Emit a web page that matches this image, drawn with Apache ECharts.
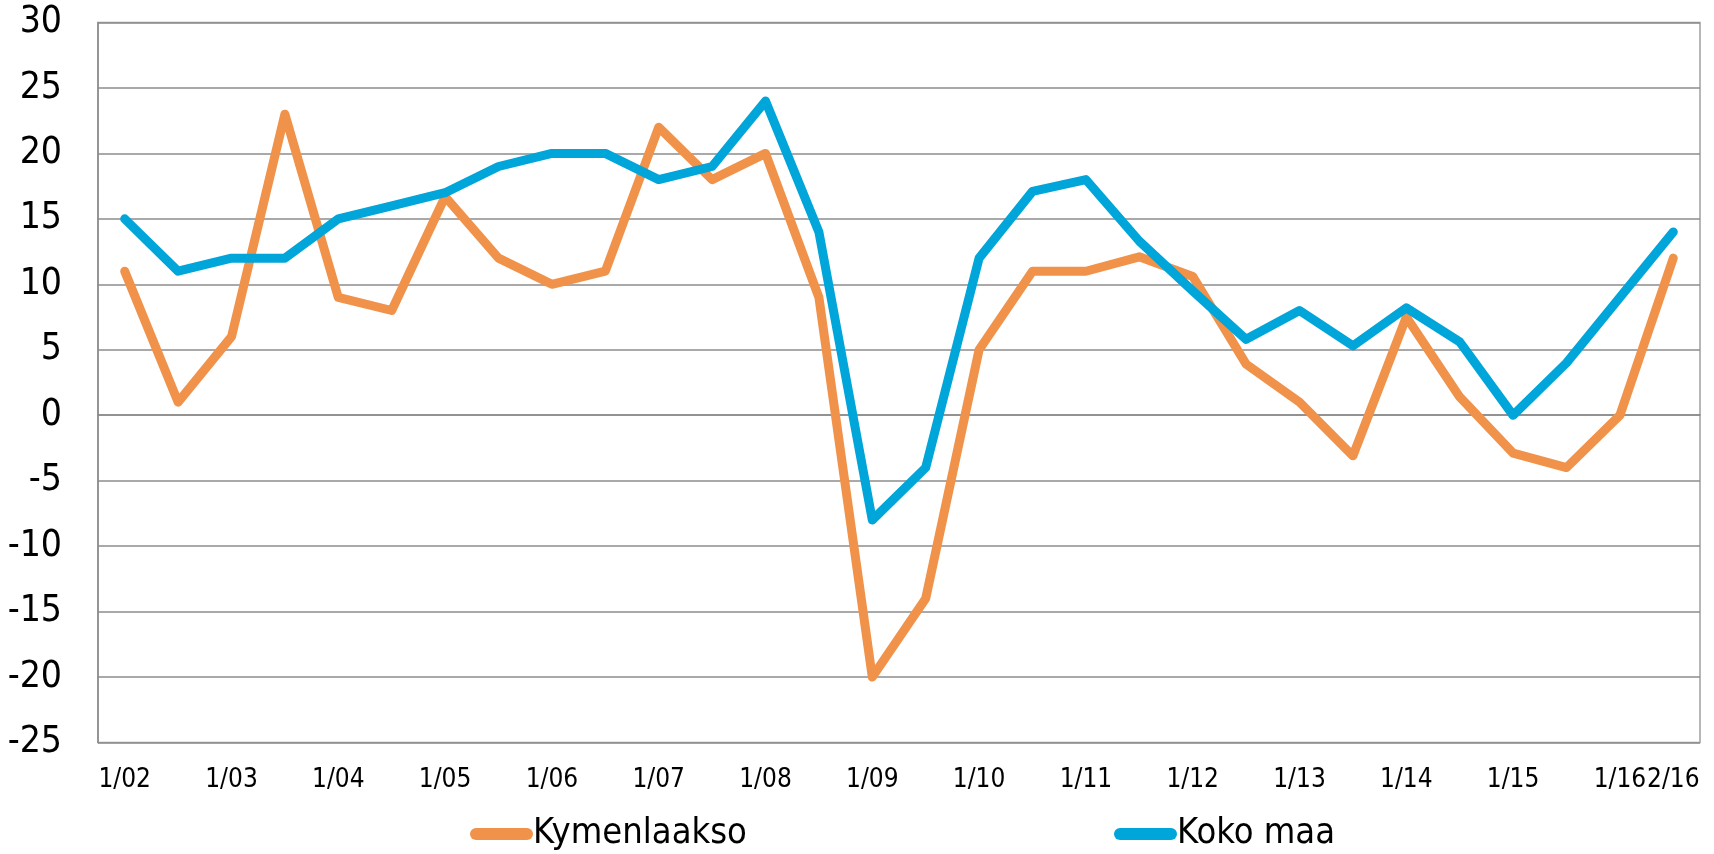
<!DOCTYPE html>
<html>
<head>
<meta charset="utf-8">
<script src="https://cdn.jsdelivr.net/npm/echarts@6/dist/echarts.min.js"></script>
<style>
html,body{margin:0;padding:0;background:#fff;}
#chart{width:1714px;height:854px;}
</style>
</head>
<body>
<div id="chart"></div>
<script>
const categories = ['1/02','2/02','1/03','2/03','1/04','2/04','1/05','2/05','1/06','2/06',
  '1/07','2/07','1/08','2/08','1/09','2/09','1/10','2/10','1/11','2/11',
  '1/12','2/12','1/13','2/13','1/14','2/14','1/15','2/15','1/16','2/16'];
const kymenlaakso = [11, 1, 6, 23, 9, 8, 16.7, 12, 10, 11,
  22, 18, 20, 9, -20, -14, 5, 11, 11, 12.1,
  10.6, 3.9, 1, -3.1, 7.5, 1.4, -2.9, -4, 0, 12];
const kokoMaa = [15, 11, 12, 12, 15, 16, 17, 19, 20, 20,
  18, 19, 24, 14, -8, -4, 12, 17.1, 18, 13.3,
  9.5, 5.8, 8, 5.3, 8.2, 5.6, 0, 4, 9, 14];
const yTicks = {min: -25, max: 30, interval: 5};
const seriesNames = ['Kymenlaakso', 'Koko maa'];
const colors = ['#F0924A', '#00A5DA'];

const FONT = '"DejaVu Sans Condensed", "DejaVu Sans", sans-serif';
const chart = echarts.init(document.getElementById('chart'), null, {renderer: 'canvas'});
const lastIdx = categories.length - 1;
const legendIcon = 'path://M6,0 L57,0 A6,6 0 0 1 57,12 L6,12 A6,6 0 0 1 6,0 Z';
chart.setOption({
  animation: false,
  backgroundColor: '#ffffff',
  grid: {left: 98, right: 14, top: 22.5, bottom: 111.5, show: true, borderColor: '#a0a0a0', borderWidth: 1.5, backgroundColor: 'transparent'},
  legend: [
    {data: [seriesNames[0]], left: 465, top: 811, itemWidth: 63, itemHeight: 12, itemGap: 0, icon: legendIcon,
     textStyle: {fontFamily: FONT, fontSize: 36, color: '#000', padding: [0,0,0,-5]}},
    {data: [seriesNames[1]], left: 1109, top: 811, itemWidth: 63, itemHeight: 12, itemGap: 0, icon: legendIcon,
     textStyle: {fontFamily: FONT, fontSize: 36, color: '#000', padding: [0,0,0,-5]}}
  ],
  xAxis: {
    type: 'category',
    data: categories,
    boundaryGap: true,
    axisLine: {lineStyle: {color: '#8a8a8a', width: 1.5}},
    axisTick: {show: false},
    axisLabel: {
      interval: (i) => i % 2 === 0 || i === lastIdx,
      hideOverlap: false, showMaxLabel: true,
      fontFamily: FONT, fontSize: 26, color: '#000', margin: 25
    },
    splitLine: {show: false}
  },
  yAxis: {
    type: 'value',
    min: yTicks.min, max: yTicks.max, interval: yTicks.interval,
    axisLine: {show: true, lineStyle: {color: '#8a8a8a', width: 1.5}},
    axisTick: {show: false},
    axisLabel: {fontFamily: FONT, fontSize: 37, color: '#000', margin: 36, padding: [6, 0, 0, 0]},
    splitLine: {lineStyle: {color: '#8c8c8c', width: 1.5}}
  },
  series: [
    {name: seriesNames[0], type: 'line', data: kymenlaakso, symbol: 'none',
     lineStyle: {color: colors[0], width: 9, cap: 'round', join: 'round'}, itemStyle: {color: colors[0]}, z: 2},
    {name: seriesNames[1], type: 'line', data: kokoMaa, symbol: 'none',
     lineStyle: {color: colors[1], width: 9, cap: 'round', join: 'round'}, itemStyle: {color: colors[1]}, z: 3}
  ]
});
</script>
</body>
</html>
